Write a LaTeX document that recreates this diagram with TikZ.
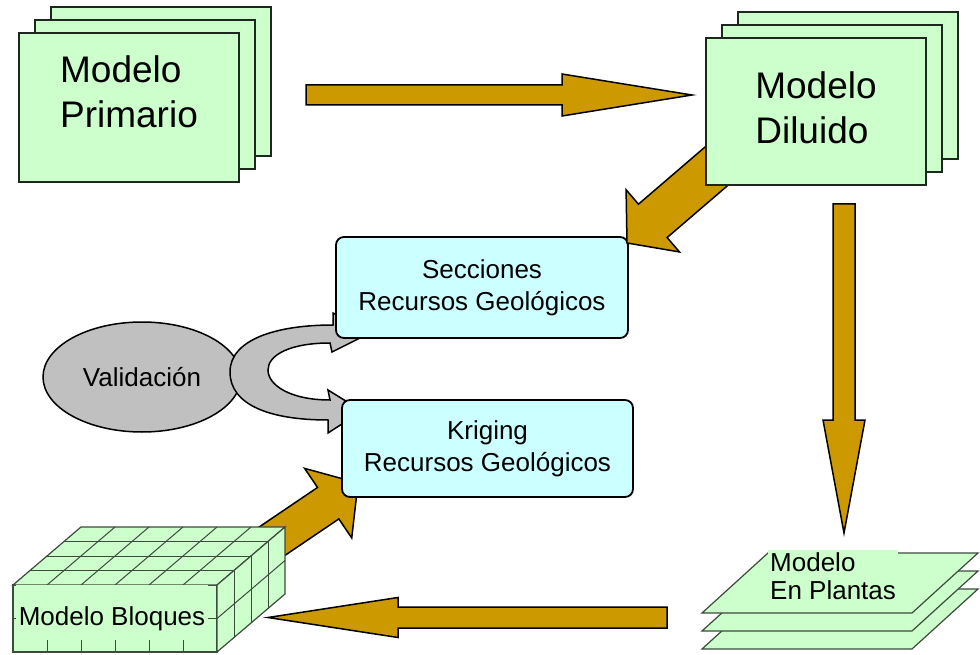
\documentclass[tikz,border=0pt]{standalone}
\usepackage{fontspec}
\setmainfont{Liberation Sans}
\usetikzlibrary{calc}
\usetikzlibrary{shapes.geometric}
\usetikzlibrary{shadows}

\definecolor{hojaverde}{RGB}{204,255,204}
\definecolor{cajaceleste}{RGB}{204,255,255}
\definecolor{flechaoro}{RGB}{204,153,0}
\definecolor{grisval}{RGB}{192,192,192}
\definecolor{bordeverde}{RGB}{28,40,28}
\definecolor{rejillagris}{RGB}{60,75,60}

\tikzset{
	stackbox/.style = {draw = bordeverde, line width = 2pt, fill = hojaverde, inner sep = 0pt,
		copy shadow = {shadow xshift = 32pt, shadow yshift = 26pt, draw = bordeverde, line width = 2pt, fill = hojaverde},
		copy shadow = {shadow xshift = 16pt, shadow yshift = 13pt, draw = bordeverde, line width = 2pt, fill = hojaverde}},
	textogrande/.style = {font = \fontsize{37}{45}\selectfont, align = left, inner sep = 0pt},
	cajabox/.style = {draw = black, line width = 1.8pt, fill = cajaceleste, rounded corners = 8pt, align = center,
		font = \fontsize{26}{32}\selectfont, inner sep = 0pt},
	elipsegris/.style = {ellipse, draw = black, line width = 1.5pt, fill = grisval, inner sep = 0pt,
		minimum width = 198pt, minimum height = 110pt, font = \fontsize{26}{32}\selectfont},
	flechagruesa/.style = {draw = black, line width = 1.5pt, fill = flechaoro, line join = miter},
	flechagris/.style = {draw = black, line width = 1.5pt, fill = grisval},
	rejilla/.style = {draw = rejillagris, line width = 1pt},
	caraverde/.style = {fill = hojaverde, draw = rejillagris, line width = 1.2pt},
	etiqueta/.style = {fill = hojaverde, font = \fontsize{26}{28}\selectfont, align = left}
}

% #1 desde, #2 hasta, #3 media cana, #4 media punta, #5 largo punta
\newcommand{\flechabloque}[5]{%
	\path ($(#2)!#5!(#1)$) coordinate (fb-base);
	\draw[flechagruesa] ($(#1)!#3!90:(#2)$) -- ($(fb-base)!#3!90:(#2)$) -- ($(fb-base)!#4!90:(#2)$) -- (#2)
		-- ($(fb-base)!#4!-90:(#2)$) -- ($(fb-base)!#3!-90:(#2)$) -- ($(#1)!#3!-90:(#2)$) -- cycle;
}

\begin{document}
\begin{tikzpicture}[x = 1pt, y = -1pt]
	\useasboundingbox (0, 0) rectangle (980, 655);

	\coordinate (primario-sal) at (306, 95);
	\coordinate (diluido-ent) at (692, 95);
	\coordinate (diluido-sal) at (726, 158);
	\coordinate (secciones-ent) at (627, 243);
	\coordinate (diluido-baja) at (844, 204);
	\coordinate (plantas-ent) at (844, 533);
	\coordinate (plantas-sal) at (667, 617.5);
	\coordinate (bloques-ent) at (268, 617.5);
	\coordinate (bloques-sal) at (262, 548);
	\coordinate (kriging-ent) at (358, 483);

	\node[elipsegris] (validacion) at (142, 377) {Validación};
	\draw[flechagris] (333, 325) -- (333, 313) -- (370, 333) -- (332, 352) -- (330, 343)
		.. controls (290, 343) and (268, 355) .. (268, 370)
		.. controls (268, 385) and (290, 400) .. (330, 400)
		-- (328, 390) -- (362, 411) -- (328, 433) -- (328, 420)
		.. controls (270, 420) and (230, 405) .. (230, 372)
		.. controls (230, 340) and (275, 325) .. (333, 325) -- cycle;

	\flechabloque{bloques-sal}{kriging-ent}{19pt}{42pt}{36pt}

	\node[cajabox, minimum width = 292pt, minimum height = 101pt] (secciones) at (482, 287.5) {Secciones\\Recursos Geológicos};
	\node[cajabox, minimum width = 291pt, minimum height = 97pt] (kriging) at (487.5, 448.5) {Kriging\\Recursos Geológicos};

	\flechabloque{primario-sal}{diluido-ent}{10pt}{21pt}{130pt}
	\flechabloque{diluido-sal}{secciones-ent}{22pt}{41pt}{34pt}
	\flechabloque{diluido-baja}{plantas-ent}{11pt}{21pt}{113pt}
	\flechabloque{plantas-sal}{bloques-ent}{10.5pt}{20pt}{130pt}

	\node[stackbox, minimum width = 220pt, minimum height = 149pt] (primario) at (129, 107.5) {};
	\node[textogrande] (primario-txt) at ([yshift = 16pt]primario.center) {Modelo\\Primario};
	\node[stackbox, minimum width = 220pt, minimum height = 147pt] (diluido) at (816, 111.5) {};
	\node[textogrande] (diluido-txt) at ([yshift = 4pt]diluido.center) {Modelo\\Diluido};

	\fill[hojaverde] (13, 585) rectangle (217, 652);
	\foreach \i in {1,...,5}
		\draw[rejilla] ({13 + \i * 34}, 585) -- ({13 + \i * 34}, 652);
	\draw[rejilla] (13, 618.5) -- (217, 618.5);
	\draw[caraverde, fill = none] (13, 585) rectangle (217, 652);
	\draw[caraverde] (13, 585) -- (217, 585) -- (285, 527) -- (81, 527) -- cycle;
	\foreach \i in {1,...,5}
		\draw[rejilla] ({13 + \i * 34}, 585) -- ++(68, -58);
	\foreach \j in {1,2,3}
		\draw[rejilla] ({13 + \j * 17}, {585 - \j * 14.5}) -- ++(204, 0);
	\draw[caraverde] (217, 585) -- (285, 527) -- (285, 594) -- (217, 652) -- cycle;
	\foreach \j in {1,2,3}
		\draw[rejilla] ({217 + \j * 17}, {585 - \j * 14.5}) -- ++(0, 67);
	\draw[rejilla] (217, 618.5) -- (285, 560.5);
	\node[etiqueta, anchor = base, text height = 40pt, text depth = 15pt, inner ysep = 0pt, inner xsep = 3pt] (bloques) at (112, 625) {Modelo Bloques};

	\foreach \dy in {36, 18, 0}
		\draw[caraverde] (768, {553 + \dy}) -- ++(210, 0) -- ++(-66, 60) -- ++(-210, 0) -- cycle;
	\node[etiqueta, anchor = north west, inner sep = 2pt] (plantas) at (768, 550) {Modelo\\En Plantas};
\end{tikzpicture}
\end{document}
